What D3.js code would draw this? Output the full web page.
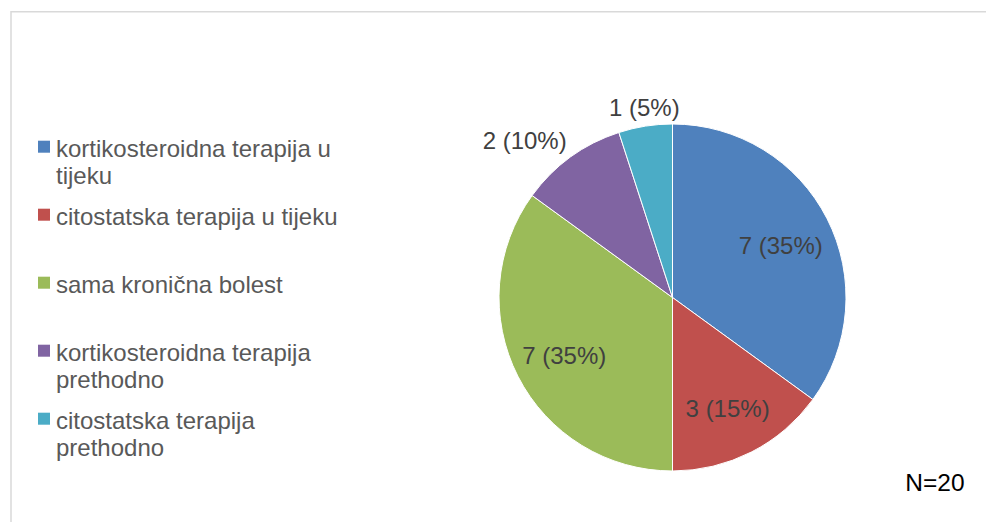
<!DOCTYPE html>
<html>
<head>
<meta charset="utf-8">
<script src="https://cdn.jsdelivr.net/npm/d3@7"></script>
<style>
  html, body { margin: 0; padding: 0; background: #fff; }
  svg { display: block; }
  text { font-family: Arial, "Liberation Sans", sans-serif; }
</style>
</head>
<body>
<svg id="chart" width="986" height="522"></svg>
<script>
// categories and counts (N=20)
let categories = ["kortikosteroidna terapija u tijeku",
                  "citostatska terapija u tijeku",
                  "sama kronična bolest",
                  "kortikosteroidna terapija prethodno",
                  "citostatska terapija prethodno"];
let values = [7, 3, 7, 2, 1];
let colors = ["#4f81bd", "#c0504d", "#9bbb59", "#8064a2", "#4bacc6"];
let noteText = "N=20";

let svg = d3.select("#chart");
let width = +svg.attr("width");
let height = +svg.attr("height");

// chart area frame (runs off the right and bottom edge)
svg.append("rect")
   .attr("x", 11).attr("y", 11.75)
   .attr("width", 1200).attr("height", 1200)
   .attr("fill", "none")
   .attr("stroke", "#d9d9d9")
   .attr("stroke-width", 1.5);

let cx = 672.5, cy = 297.5, radius = 173.5;
let total = d3.sum(values);

let pie = d3.pie().sort(null).value(function(d){ return d; });
let arc = d3.arc().innerRadius(0).outerRadius(radius);

let g = svg.append("g").attr("transform", "translate(" + cx + "," + cy + ")");

let arcs = pie(values);

g.selectAll("path")
 .data(arcs)
 .enter()
 .append("path")
 .attr("d", arc)
 .attr("fill", function(d,i){ return colors[i]; })
 .attr("stroke", "#fff")
 .attr("stroke-width", 1);

// data labels: inside for big slices, just outside for small ones
let fontSize = 24;
let labels = g.selectAll("text.lbl")
 .data(arcs)
 .enter()
 .append("text")
 .attr("class", "lbl")
 .attr("text-anchor", "middle")
 .attr("dy", "0.36em")
 .attr("font-size", fontSize)
 .attr("fill", "#404040")
 .text(function(d){ return d.data + " (" + Math.round(d.data / total * 100) + "%)"; });

labels.each(function(d){
  let mid = (d.startAngle + d.endAngle) / 2;
  let ux = Math.sin(mid), uy = -Math.cos(mid);
  let x, y;
  if (d.data / total >= 0.12) {
    x = ux * radius * 0.7;
    y = uy * radius * 0.7 + 3;
  } else {
    // anchor point just past the rim, box hangs off it like excel does
    let w = this.getComputedTextLength();
    let h = fontSize;
    let px = ux * (radius + 6.5), py = uy * (radius + 6.5);
    x = Math.abs(ux) < 0.3 ? px : px + Math.sign(ux) * w / 2;
    y = Math.abs(uy) < 0.3 ? py : py + Math.sign(uy) * h / 2;
  }
  d3.select(this).attr("x", x).attr("y", y);
});

// legend, wrapped like the original
let legend = svg.append("g");
let legX = 38, legTextX = 56, legY0 = 156.7, legStep = 68, lineH = 27.5, maxW = 290;

categories.forEach(function(name, i){
  let base = legY0 + i * legStep;
  legend.append("rect")
    .attr("x", legX).attr("y", base - 16)
    .attr("width", 12).attr("height", 12)
    .attr("fill", colors[i]);

  let t = legend.append("text")
    .attr("x", legTextX).attr("y", base)
    .attr("font-size", fontSize)
    .attr("fill", "#595959");

  let words = name.split(" ");
  let line = [];
  let lineNo = 0;
  let tspan = t.append("tspan").attr("x", legTextX).attr("y", base);
  words.forEach(function(w){
    line.push(w);
    tspan.text(line.join(" "));
    if (tspan.node().getComputedTextLength() > maxW && line.length > 1) {
      line.pop();
      tspan.text(line.join(" "));
      line = [w];
      lineNo++;
      tspan = t.append("tspan").attr("x", legTextX).attr("y", base + lineNo * lineH).text(w);
    }
  });
});

svg.append("text")
   .attr("x", 935).attr("y", 490.5)
   .attr("text-anchor", "middle")
   .attr("font-size", 24.5)
   .attr("fill", "#000")
   .text(noteText);
</script>
</body>
</html>
